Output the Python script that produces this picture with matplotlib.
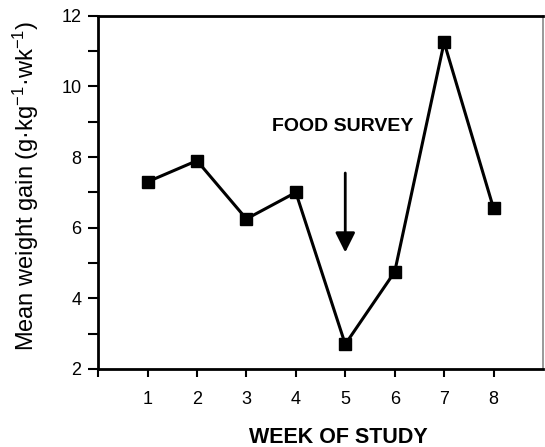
import matplotlib
matplotlib.use('Agg')
import matplotlib.pyplot as plt

# data
weeks = [1, 2, 3, 4, 5, 6, 7, 8]
gain = [7.3, 7.9, 6.25, 7.0, 2.7, 4.75, 11.25, 6.55]
yticks_major = [2, 4, 6, 8, 10, 12]
yticks_minor = [3, 5, 7, 9, 11]
xticks = [0, 1, 2, 3, 4, 5, 6, 7, 8]
xticklabels = ['', '1', '2', '3', '4', '5', '6', '7', '8']

plt.rcParams['font.family'] = ['Liberation Sans', 'DejaVu Sans']
plt.rcParams['mathtext.fontset'] = 'custom'
plt.rcParams['mathtext.rm'] = 'Liberation Sans'
plt.rcParams['mathtext.it'] = 'Liberation Sans:italic'

fig = plt.figure(figsize=(5.45, 4.47), dpi=100)
ax = fig.add_axes([0.18, 0.1745, 0.8163, 0.79])

ax.plot(weeks, gain, color='black', lw=2.2, marker='s', ms=8,
        mfc='black', mec='black', clip_on=False)

# food survey arrow
ax.annotate('', xy=(5, 5.3), xytext=(5, 7.55),
            arrowprops=dict(arrowstyle='-|>,head_length=1.2,head_width=0.6',
                            color='black', lw=2.0, shrinkA=0, shrinkB=0))
ax.text(4.95, 8.86, 'FOOD SURVEY', ha='center', va='center',
        fontsize=14, fontweight='bold')

ax.set_xlim(0, 9)
ax.set_ylim(2, 12)
ax.set_xticks(xticks)
ax.set_xticklabels(xticklabels)
ax.set_yticks(yticks_major)
ax.set_yticks(yticks_minor, minor=True)

ax.tick_params(axis='y', which='both', direction='out', length=7, width=1.5,
               labelsize=13, pad=5)
ax.tick_params(axis='x', which='both', direction='out', length=6, width=1.5,
               labelsize=13, pad=10)

for side in ['left', 'bottom', 'top']:
    ax.spines[side].set_linewidth(2.0)
ax.spines['right'].set_linewidth(1.2)
ax.spines['right'].set_color('#888888')

ax.set_ylabel('Mean weight gain (g·kg$^{-1}$·wk$^{-1}$)', fontsize=17)
ax.yaxis.set_label_coords(-0.128, 0.52)
ax.set_xlabel('WEEK OF STUDY', fontsize=15.5, fontweight='bold')
ax.xaxis.set_label_coords(0.54, -0.165)

fig.savefig('out.png', dpi=100)
